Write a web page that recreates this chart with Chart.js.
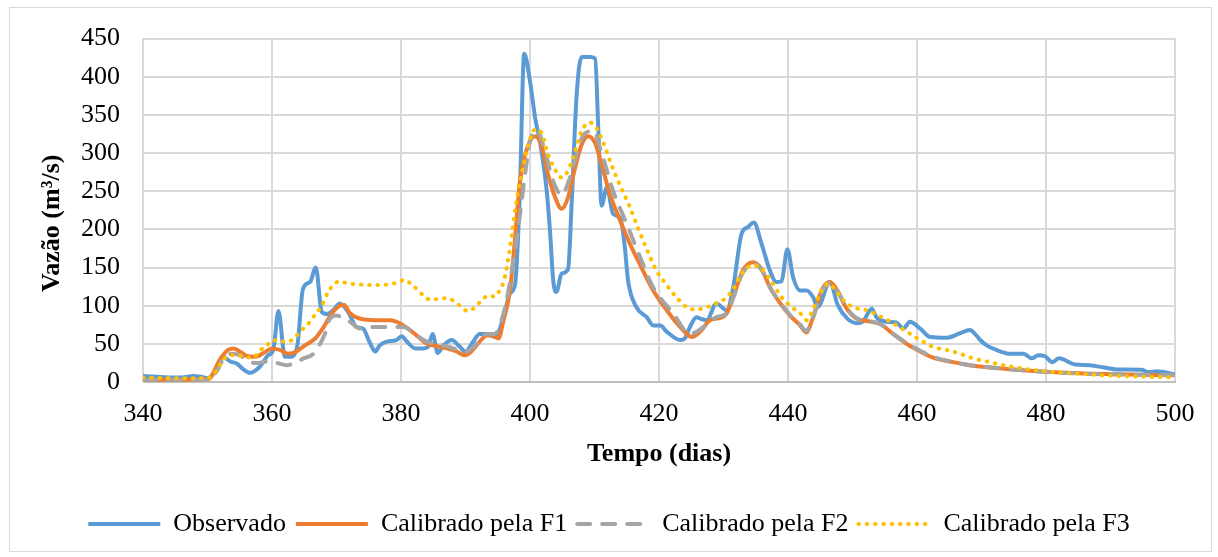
<!DOCTYPE html>
<html>
<head>
<meta charset="utf-8">
<script src="https://cdn.jsdelivr.net/npm/chart.js@4/dist/chart.umd.min.js"></script>
<style>
  html, body { margin: 0; padding: 0; background: #fff; }
  #wrap { position: relative; width: 1218px; height: 557px; }
  #frame { position: absolute; left: 9px; top: 7px; width: 1201px; height: 543px; border: 1px solid #d9d9d9; }
  canvas { position: absolute; left: 0; top: 0; }
</style>
</head>
<body>
<div id="wrap">
  <div id="frame"></div>
  <canvas id="vazaoChart" width="1218" height="557"></canvas>
</div>
<script>
// Vazão observada x calibrada (F1, F2, F3), dias 340 a 500
const obsDias = [340, 342, 344, 346, 347.8, 349, 350, 351, 352.4, 353.5, 354.6, 355.5, 356.6, 358.1, 359.4, 360.2, 361, 362, 362.8, 363.9,
  364.8, 365.9, 366.8, 367.7, 368.5, 369.5, 370.5, 371.8, 373.1, 374.1, 375.2, 376, 376.7, 377.8, 379.3, 380.1, 380.9, 382.2, 383.5, 384.2,
  384.9, 385.7, 386.6, 387.9, 388.9, 390, 391.2, 392.2, 393.5, 394.6, 395.9, 396.9, 397.7, 398.4, 399.1, 400, 400.8, 401.6, 402.6, 403.1,
  403.6, 404.1, 404.9, 405.9, 406.5, 407.2, 408, 409.3, 410.1, 410.6, 411.1, 411.9, 412.9, 414, 414.7, 415.2, 416.5, 418.1, 419.1, 420.2,
  421.2, 423.3, 424, 424.8, 425.8, 426.4, 427.4, 428.9, 430.5, 431.5, 432.8, 433.8, 434.7, 435.9, 437.2, 438.2, 439, 439.9, 440.8, 441.9,
  442.9, 443.9, 444.6, 446.5, 447.7, 449.2, 450.7, 451.6, 453, 453.7, 455.3, 456.8, 457.9, 458.9, 460.5, 462, 464.6, 466.7, 468.2, 469.2,
  469.8, 470.8, 472.3, 474.4, 476.5, 477.8, 478.8, 479.8, 481, 482, 484.5, 486.8, 489, 491, 494.8, 495.9, 497.2, 500];
const obsVazao = [8, 7, 6, 6, 8, 7, 5, 12, 33, 27, 24, 17, 12, 20, 35, 42, 93, 33, 33, 46,
  122, 131, 150, 92, 89, 94, 103, 92, 72, 70, 51, 40, 48, 53, 55, 60, 53, 44, 44, 46,
  63, 38, 48, 55, 48, 40, 53, 63, 63, 59, 85, 116, 129, 242, 430, 394, 346, 312, 250, 198,
  133, 118, 142, 148, 242, 372, 426, 426, 424, 329, 231, 255, 220, 215, 177, 133, 98, 85, 74, 74,
  66, 55, 57, 72, 85, 83, 81, 103, 94, 124, 194, 203, 209, 181, 146, 131, 132, 174, 137, 120,
  120, 111, 98, 131, 101, 83, 77, 79, 96, 85, 79, 78, 70, 79, 70, 59, 58, 64, 68, 61,
  55, 48, 42, 37, 37, 31, 35, 34, 26, 31, 23, 22, 19, 16.5, 16, 13, 14, 10];

const f1Dias = [340, 345, 350, 350.4, 351.9, 353.2, 354, 355, 356.1, 357.4, 358.7, 360, 361.2, 362.5, 363.8, 365.1, 366.7, 368, 369.3, 370.5,
  371.2, 372.1, 374.2, 376.7, 378.3, 379.8, 381.1, 382.7, 384, 385.5, 387.1, 388.6, 389.9, 390.9, 392.2, 393.3, 394.2, 395.1, 395.9, 396.9,
  397.7, 398.4, 399.5, 400.8, 401.8, 402.8, 403.9, 404.9, 405.9, 407, 408, 409, 410.1, 411.1, 412.4, 414, 415.5, 417.1, 419.1, 421.2,
  423.3, 425.1, 426.4, 427.9, 429.5, 430.5, 431.5, 433, 434.6, 435.9, 437.2, 438.8, 440.3, 441.9, 442.8, 443.9, 445.2, 446.5, 447.5, 449.1,
  450.6, 452.2, 454.3, 456.3, 458.4, 460.5, 462.5, 465.6, 468.2, 471.3, 475.4, 480.6, 485.8, 491, 500];
const f1Vazao = [3, 3, 4, 5, 29, 42, 44, 40, 34, 33, 38, 44, 42, 37, 40, 48, 57, 72, 90, 100,
  101, 90, 82, 81, 81, 77, 70, 59, 50, 47, 44, 40, 35, 40, 53, 61, 61, 57, 81, 120,
  190, 260, 305, 322, 309, 272, 242, 227, 242, 281, 311, 322, 313, 285, 246, 211, 181, 153, 120, 94,
  72, 59, 66, 81, 84, 90, 111, 146, 157, 148, 124, 103, 87, 74, 65, 85, 120, 131, 122, 96,
  83, 80, 76, 63, 50, 40, 32, 26, 22, 19, 16, 13, 11, 10, 9];

const f2Dias = [340, 345, 350, 351.5, 352.5, 353.8, 355, 356.6, 357.9, 359.3, 360.7, 362.3, 363.5, 364.9, 366.4, 368.2, 369, 370, 370.5, 372.1,
  373.6, 375.7, 378.8, 380.4, 382.4, 384, 386.6, 388.6, 390.2, 391.7, 393.3, 394.5, 395.9, 397.2, 398.2, 399.2, 400, 401, 402.3, 403.6,
  404.9, 406.2, 407.2, 408.3, 409.8, 411.1, 412.9, 415, 417.1, 419.1, 422.2, 424.8, 426.9, 428.9, 430.5, 431.5, 433, 434.6, 435.9, 437.2,
  438.8, 440.3, 441.9, 442.8, 443.9, 445.2, 446.5, 447.5, 449.1, 450.6, 452.2, 454.3, 456.3, 458.4, 460.5, 462.5, 465.6, 468.2, 471.3, 475.4,
  480.6, 485.8, 491, 500];
const f2Vazao = [3, 3, 3, 15, 31, 37, 35, 26, 25, 27, 25, 22, 25, 31, 37, 63, 83, 87, 86, 79,
  70, 72, 72, 72, 61, 53, 48, 43, 40, 50, 63, 63, 90, 146, 203, 270, 315, 331, 303, 263,
  245, 268, 298, 324, 329, 300, 250, 207, 163, 124, 90, 63, 72, 85, 90, 110, 143, 155, 147, 124,
  104, 88, 75, 67, 85, 118, 130, 122, 97, 84, 80, 76, 63, 51, 41, 33, 26, 22, 19, 16,
  13, 11, 10, 9];

const f3Dias = [340, 345, 350, 351.2, 351.9, 352.7, 353.5, 354.8, 356.1, 357.1, 358.1, 359.2, 360.2, 361.2, 362.5, 363.6, 364.6, 365.4, 366.2, 367.7,
  368.7, 369.5, 370.5, 371.8, 373.3, 375.7, 378.3, 379.6, 380.6, 381.6, 382.7, 383.5, 384.5, 386, 387.1, 388.4, 389.4, 390.3, 391.5, 392.5,
  393.5, 394.5, 395.3, 395.9, 396.4, 397.2, 397.9, 398.7, 399.5, 400.8, 401.8, 402.8, 403.6, 404.9, 405.9, 407, 408, 409.3, 410.3, 411.4,
  412.7, 414, 415.3, 416.5, 418.1, 419.6, 421.2, 422.7, 424.3, 425.8, 427.4, 428.9, 430.5, 431.5, 433, 434.6, 435.9, 437.5, 439, 440.6,
  441.9, 442.9, 443.9, 445, 446.3, 447, 448.6, 450.1, 452.2, 454.3, 456.3, 458.4, 460.5, 462.5, 464.6, 466.7, 468.7, 470.8, 473.4, 477,
  480.6, 485.8, 491, 500];
const f3Vazao = [6, 5, 5, 13, 22, 31, 35, 35, 32, 32, 41, 48, 55, 53, 53, 59, 68, 74, 83, 100,
  118, 127, 132, 129, 128, 127, 128, 131, 134, 128, 120, 113, 108, 109, 110, 105, 98, 93, 98, 107,
  113, 112, 120, 131, 150, 194, 237, 272, 303, 331, 326, 298, 283, 268, 277, 303, 329, 340, 333, 313,
  283, 257, 233, 207, 174, 146, 127, 111, 98, 95, 98, 103, 111, 122, 144, 153, 148, 131, 111, 98,
  90, 81, 96, 116, 129, 124, 107, 98, 94, 86, 77, 66, 55, 46, 42, 37, 31, 27, 22, 17,
  13.5, 10.4, 8, 6];

const xTicks = [340, 360, 380, 400, 420, 440, 460, 480, 500];
const yTicks = [0, 50, 100, 150, 200, 250, 300, 350, 400, 450];

function pontos(dias, vazao) {
  return dias.map((d, i) => ({ x: d, y: vazao[i] }));
}

const fonte = "'Liberation Serif', 'Times New Roman', serif";
Chart.defaults.font.family = fonte;
Chart.defaults.color = '#000';

const ctx = document.getElementById('vazaoChart').getContext('2d');
new Chart(ctx, {
  type: 'line',
  data: {
    datasets: [
      {
        label: 'Observado',
        data: pontos(obsDias, obsVazao),
        borderColor: '#5B9BD5',
        borderWidth: 4,
        order: 4
      },
      {
        label: 'Calibrado pela F1',
        data: pontos(f1Dias, f1Vazao),
        borderColor: '#ED7D31',
        borderWidth: 4,
        order: 3
      },
      {
        label: 'Calibrado pela F2',
        data: pontos(f2Dias, f2Vazao),
        borderColor: '#A5A5A5',
        borderWidth: 4,
        borderDash: [13, 12],
        borderCapStyle: 'round',
        order: 2
      },
      {
        label: 'Calibrado pela F3',
        data: pontos(f3Dias, f3Vazao),
        borderColor: '#FFC000',
        borderWidth: 4,
        borderDash: [0.5, 7.8],
        borderCapStyle: 'round',
        order: 1
      }
    ]
  },
  options: {
    responsive: false,
    animation: false,
    elements: {
      point: { radius: 0 },
      line: { cubicInterpolationMode: 'monotone', fill: false }
    },
    layout: { padding: { left: 0, right: 0, top: 37, bottom: 10 } },
    scales: {
      x: {
        type: 'linear',
        min: 340,
        max: 500,
        afterBuildTicks: function(scale) {
          scale.ticks = xTicks.map(v => ({ value: v }));
        },
        afterFit: function(scale) { scale.height = 119; },
        grid: { color: '#d9d9d9', lineWidth: 2, drawTicks: false },
        border: { color: '#bfbfbf', width: 2 },
        ticks: { font: { size: 26 }, padding: 17, maxRotation: 0 },
        title: {
          display: true,
          text: 'Tempo (dias)',
          font: { size: 26, weight: 'bold' },
          padding: { top: 0, bottom: 31 }
        }
      },
      y: {
        min: 0,
        max: 450,
        afterBuildTicks: function(scale) {
          scale.ticks = yTicks.map(v => ({ value: v }));
        },
        afterFit: function(scale) { scale.width = 143; },
        grid: { color: '#d9d9d9', lineWidth: 2, drawTicks: false },
        border: { color: '#d9d9d9', width: 2 },
        ticks: { font: { size: 26 }, padding: 23 },
        title: {
          display: true,
          text: 'Vazão (m³/s)\u2003',
          font: { size: 26, weight: 'bold' },
          padding: { top: 37, bottom: 0 }
        }
      },
      // eixo vazio só para reservar a margem direita
      margem: {
        position: 'right',
        display: true,
        afterFit: function(scale) { scale.width = 43; },
        grid: { display: false, drawTicks: false },
        border: { display: false },
        ticks: { display: false }
      }
    },
    plugins: {
      legend: {
        position: 'bottom',
        labels: {
          usePointStyle: true,
          pointStyle: 'line',
          pointStyleWidth: 72,
          padding: 10,
          font: { size: 26 },
          sort: (a, b) => a.datasetIndex - b.datasetIndex,
          generateLabels: function(chart) {
            const itens = Chart.defaults.plugins.legend.labels.generateLabels(chart);
            itens.forEach(item => {
              const ds = chart.data.datasets[item.datasetIndex];
              item.strokeStyle = ds.borderColor;
              item.lineWidth = 4;
              item.lineDash = ds.borderDash || [];
              item.lineCap = ds.borderCapStyle || 'butt';
            });
            return itens;
          }
        }
      },
      tooltip: { enabled: false }
    }
  }
});
</script>
</body>
</html>
